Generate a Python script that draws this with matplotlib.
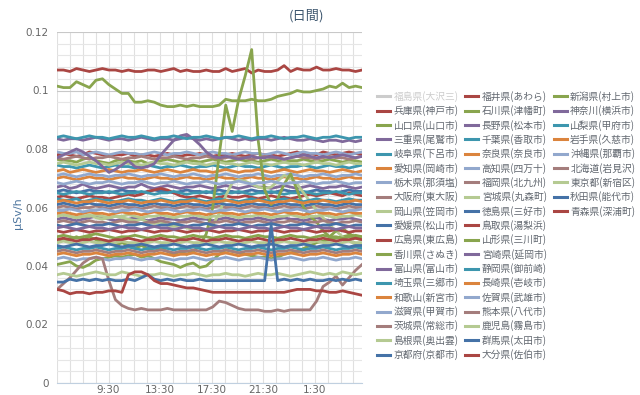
import numpy as np
import matplotlib
matplotlib.use("Agg")
from matplotlib import pyplot as plt
from matplotlib.lines import Line2D
from matplotlib.ticker import MultipleLocator, FixedLocator

# values in 0.001 uSv/h, one reading every ~30 min from 5:30
hyogo = [78, 78.5, 78, 77.5, 78, 79, 78.5, 78, 77.5, 78, 78, 78.5, 77.5, 78, 78, 77.5,
         78, 78.5, 78, 77.5, 78, 78, 78.5, 78, 77.5, 78, 78, 78.5, 78, 77.5, 78, 78.5,
         78, 78, 77.5, 78, 78.5, 79, 78, 78.5, 78, 79, 78.5, 78, 78.5, 79, 78.5, 78]
yamaguchi = [76.5, 76, 76, 75.5, 76.5, 77, 76, 75.5, 75, 76, 76.5, 76, 75.5, 76, 75, 75.5,
             76, 76.5, 76, 75.5, 76, 76, 75.5, 76, 76.5, 76, 75.5, 76, 76.5, 76, 76, 75.5,
             76, 76.5, 76, 75.5, 76, 76, 76.5, 76, 75.5, 76, 76.5, 76, 75.5, 76, 76, 75.5]
mie = [67, 67.5, 66.5, 67, 68, 67, 66.5, 67, 67.5, 67, 66.5, 67, 67, 68, 67, 66.5,
       67, 67.5, 67, 66.5, 67, 67, 67.5, 67, 66.5, 67, 67.5, 67, 66.5, 67, 67.5, 67,
       67, 66.5, 67, 67.5, 67, 66.5, 67, 67.5, 67, 66.5, 67, 67, 67.5, 67, 66.5, 67]
gifu = [74.5, 74, 74, 73.5, 74, 74.5, 74, 73.5, 74, 74.5, 74, 74, 73.5, 74, 74.5, 74,
        73.5, 74, 74, 74.5, 74, 73.5, 74, 74, 74.5, 74, 73.5, 74, 74.5, 74, 74, 73.5,
        74, 74.5, 74, 73.5, 74, 74, 74.5, 74, 73.5, 74, 74.5, 74, 74, 73.5, 74, 74.5]
aichi = [72.5, 73, 72, 72.5, 73, 72.5, 72, 72.5, 73, 72.5, 72, 72.5, 72.5, 73, 72.5, 72,
         72.5, 73, 72.5, 72, 72.5, 73, 72.5, 72.5, 72, 72.5, 73, 72.5, 72, 72.5, 72.5, 73,
         72.5, 72, 72.5, 73, 72.5, 72, 72.5, 73, 72.5, 72.5, 72, 72.5, 73, 72.5, 72, 72.5]
tochigi = [79, 78.5, 78.5, 79, 78, 78.5, 79, 78.5, 78, 78.5, 79, 78.5, 78.5, 78, 78.5, 79,
           78.5, 78, 78.5, 78.5, 79, 78.5, 78, 78.5, 79, 78.5, 78.5, 78, 78.5, 79, 78.5, 78.5,
           78, 78.5, 79, 78.5, 78, 78.5, 79, 78.5, 78.5, 78, 78.5, 79, 78.5, 78, 78.5, 79]
osaka = [77, 76.5, 77, 77.5, 77, 76.5, 77, 77, 77.5, 77, 76.5, 77, 77, 77.5, 77, 76.5,
         77, 77, 77.5, 77, 76.5, 77, 77, 77.5, 77, 76.5, 77, 77.5, 77, 77, 76.5, 77,
         77.5, 77, 77, 76.5, 77, 77.5, 77, 77, 76.5, 77, 77.5, 77, 77, 76.5, 77, 77.5]
okayama = [75, 75.5, 75, 74.5, 75, 75.5, 75, 75, 74.5, 75, 75.5, 75, 75, 74.5, 75, 75.5,
           75, 75, 74.5, 75, 75.5, 75, 75, 74.5, 75, 75.5, 75, 75, 74.5, 75, 75.5, 75,
           75, 74.5, 75, 75.5, 75, 75, 74.5, 75, 75.5, 75, 75, 74.5, 75, 75.5, 75, 75]
ehime = [65.5, 66, 65.5, 65, 65.5, 66, 65.5, 65.5, 65, 65.5, 66, 65.5, 65.5, 65, 65.5, 66,
         65.5, 65.5, 65, 65.5, 66, 65.5, 65.5, 65, 65.5, 66, 65.5, 65.5, 65, 65.5, 66, 65.5,
         65.5, 65, 65.5, 66, 65.5, 65.5, 65, 65.5, 66, 65.5, 65.5, 65, 65.5, 66, 65.5, 65.5]
hiroshima = [63.5, 64, 63.5, 63, 63.5, 64, 63.5, 63.5, 63, 63.5, 64, 64.5, 64, 64.5, 65.5, 66,
             66.5, 66, 65, 64, 63.5, 63.5, 64, 63.5, 63, 63.5, 64, 63.5, 63.5, 64, 63.5, 63,
             63.5, 64, 63.5, 63.5, 63, 63.5, 64, 64.5, 64, 64.5, 65, 64.5, 64, 65, 64.5, 64]
kagawa = [40.5, 41, 41.5, 40, 39.5, 40.5, 42, 42.5, 43, 43.5, 43, 43.5, 44, 43, 43.5, 42.5,
          41.5, 41, 40.5, 39.5, 40.5, 41, 39.5, 40, 42, 44, 45.5, 45, 44.5, 44, 43.5, 43,
          43, 42.5, 43, 44, 44.5, 45, 46, 47, 48, 48.5, 49, 49.5, 50, 50.5, 49.5, 49]
toyama = [56, 56.5, 56, 55.5, 56, 56.5, 57, 56.5, 56, 55.5, 56, 56, 56.5, 56, 55.5, 56,
          56.5, 56, 56, 55.5, 56, 56.5, 56, 56, 55.5, 56, 56.5, 56, 55.5, 56, 56, 56.5,
          56, 55.5, 56, 56.5, 56, 56, 55.5, 56, 56.5, 56, 55.5, 56, 56, 56.5, 56, 55.5]
saitama = [65, 64.5, 65, 65.5, 65, 64.5, 65, 65, 65.5, 65, 64.5, 65, 65, 65.5, 65, 64.5,
           65, 65, 65.5, 65, 64.5, 65, 65, 65.5, 65, 64.5, 65, 65, 65.5, 65, 64.5, 65,
           65, 65.5, 65, 64.5, 65, 65, 65.5, 65, 64.5, 65, 65, 65.5, 65, 64.5, 65, 65]
wakayama = [70, 70.5, 70, 69.5, 70, 70.5, 70, 70, 69.5, 70, 70.5, 70, 70, 69.5, 70, 70.5,
            70, 70, 69.5, 70, 70.5, 70, 70, 69.5, 70, 70.5, 70, 70, 69.5, 70, 70.5, 70,
            70, 69.5, 70, 70.5, 70, 70, 69.5, 70, 70.5, 70, 70, 69.5, 70, 70.5, 70, 70]
shiga = [71, 71.5, 71, 70.5, 71, 71.5, 71, 71, 70.5, 71, 71, 71.5, 71, 70.5, 71, 71,
         71.5, 71, 70.5, 71, 71, 71.5, 71, 70.5, 71, 71, 71.5, 71, 70.5, 71, 71, 71.5,
         71, 70.5, 71, 71, 71.5, 71, 70.5, 71, 71, 71.5, 71, 70.5, 71, 71, 71.5, 71]
ibaraki = [60, 60.5, 60, 59.5, 60, 60, 60.5, 60, 59.5, 60, 60.5, 60, 60, 59.5, 60, 60.5,
           60, 60, 59.5, 60, 60.5, 60, 60, 59.5, 60, 60.5, 60, 60, 59.5, 60, 60.5, 60,
           60, 59.5, 60, 60.5, 60, 60, 59.5, 60, 60.5, 60, 60, 59.5, 60, 60.5, 60, 60]
shimane = [57, 57.5, 57, 56.5, 57, 57.5, 56.5, 56, 56.5, 57, 56.5, 56, 55.5, 56, 55, 54.5,
           55, 54, 53.5, 54, 53, 52.5, 53, 52, 54, 58, 64, 68.5, 69.5, 69, 68, 67,
           66.5, 67, 69, 71, 70, 68, 65, 62, 59, 56.5, 54, 52, 50, 48.5, 47.5, 47]
kyoto = [61, 61.5, 61, 60.5, 61, 61.5, 61, 61, 60.5, 61, 61.5, 61, 61, 60.5, 61, 61.5,
         61, 61, 60.5, 61, 61.5, 61, 61, 60.5, 61, 61.5, 61, 61, 60.5, 61, 61.5, 61,
         61, 60.5, 61, 61.5, 61, 61, 60.5, 61, 61.5, 61, 61, 60.5, 61, 61.5, 61, 61]
fukui = [107, 107, 106.5, 107.5, 107, 106.5, 107, 107.5, 107, 107, 106.5, 107, 106.5, 106.5, 107, 107,
         106.5, 107, 107.5, 106.5, 107, 106.5, 106.5, 107, 106.5, 106.5, 107.5, 106.5, 107, 107.5, 106, 107,
         106.5, 106.5, 107, 108.5, 106.5, 107.5, 107, 107, 108, 107, 107, 107.5, 107, 107, 106.5, 107]
ishikawa = [48, 49, 49, 50, 49, 50, 49, 48, 48, 47, 48, 47, 46, 47, 46, 45,
            46, 45, 44, 45, 44, 45, 47, 51, 60, 78, 95, 86, 97, 105, 114, 83,
            66, 61, 63, 68, 71.5, 66, 60, 57, 55, 52, 50, 52, 53, 51, 50, 50]
nagano = [77, 78, 79, 80, 79, 77.5, 76, 74, 72, 73, 74.5, 76, 74, 73.5, 74, 75,
          78, 80.5, 83, 84.5, 85, 83.5, 81.5, 79, 77.5, 77, 77.5, 77, 76.5, 77, 77.5, 77,
          77, 77.5, 77, 76.5, 77, 77.5, 78, 77.5, 77, 77.5, 77, 77.5, 78, 77.5, 77, 77.5]
chiba = [63, 62.5, 62.5, 63, 62, 62.5, 63, 62.5, 62.5, 62, 62.5, 63, 62.5, 62.5, 62, 62.5,
         63, 62.5, 62, 62.5, 62.5, 63, 62.5, 62, 62.5, 63, 62.5, 62.5, 62, 62.5, 63, 62.5,
         62.5, 62, 62.5, 63, 62.5, 62.5, 62, 62.5, 63, 62.5, 62.5, 62, 62.5, 63, 62.5, 62.5]
nara = [62, 62.5, 62, 61.5, 62, 62, 62.5, 62, 61.5, 62, 62, 62.5, 62, 61.5, 62, 62,
        62.5, 62, 61.5, 62, 62, 62.5, 62, 61.5, 62, 62, 62.5, 62, 61.5, 62, 62, 62.5,
        62, 61.5, 62, 62, 62.5, 62, 61.5, 62, 62, 62.5, 62, 61.5, 62, 62, 62.5, 62]
kochi = [68.5, 68, 68.5, 69, 68.5, 68, 68.5, 68.5, 69, 68.5, 68, 68.5, 68.5, 69, 68.5, 68,
         68.5, 68.5, 69, 68.5, 68, 68.5, 68.5, 69, 68.5, 68, 68.5, 68.5, 69, 68.5, 68, 68.5,
         68.5, 69, 68.5, 68, 68.5, 68.5, 69, 68.5, 68, 68.5, 68.5, 69, 68.5, 68, 68.5, 68.5]
fukuoka = [55, 55.5, 55, 54.5, 55, 55.5, 55, 55, 54.5, 55, 55.5, 55, 55, 54.5, 55, 55,
           55.5, 55, 54.5, 55, 55, 55.5, 55, 54.5, 55, 55, 55.5, 55, 54.5, 55, 55, 55.5,
           55, 54.5, 55, 55, 55.5, 55, 54.5, 55, 55, 55.5, 55, 54.5, 55, 55, 55.5, 55]
miyagi = [57, 57.5, 57, 56.5, 57, 57, 57.5, 57, 56.5, 57, 57, 57.5, 57, 56.5, 57, 57,
          57.5, 57, 56.5, 57, 57, 57.5, 57, 56.5, 57, 57, 57.5, 57, 56.5, 57, 57, 57.5,
          57, 56.5, 57, 57, 57.5, 57, 56.5, 57, 57, 57.5, 57, 56.5, 57, 57, 57.5, 57]
tokushima = [54, 53.5, 54, 54.5, 54, 53.5, 54, 54, 54.5, 54, 53.5, 54, 54, 54.5, 54, 53.5,
             54, 54, 54.5, 54, 53.5, 54, 54, 54.5, 54, 53.5, 54, 54, 54.5, 54, 53.5, 54,
             54, 54.5, 54, 53.5, 54, 54, 54.5, 54, 53.5, 54, 54, 54.5, 54, 53.5, 54, 54]
tottori = [52, 51.5, 52, 52.5, 52, 51.5, 52, 52, 52.5, 52, 51.5, 52, 52, 52.5, 52, 51.5,
           52, 52, 52.5, 52, 51.5, 52, 52, 52.5, 52, 51.5, 52, 52, 52.5, 52, 51.5, 52,
           52, 52.5, 52, 51.5, 52, 52, 52.5, 52, 51.5, 52, 52, 52.5, 52, 51.5, 52, 52]
yamagata = [50, 50.5, 50, 49.5, 50, 50.5, 51, 50.5, 50, 49.5, 50, 50, 50.5, 50, 49.5, 50,
            50.5, 50, 50, 49.5, 50, 50.5, 50, 50, 49.5, 50, 50.5, 50, 50, 49.5, 50, 50.5,
            50, 50, 49.5, 50, 50.5, 50, 50, 49.5, 50, 50.5, 50, 50, 49.5, 50, 50.5, 50]
miyazaki = [83.5, 83, 83.5, 83.5, 83, 83.5, 84, 83.5, 83, 83.5, 83.5, 83, 83.5, 84, 83.5, 83,
            83.5, 83.5, 83, 83.5, 84, 83.5, 83, 83.5, 83, 83.5, 84, 83.5, 83, 83.5, 83, 83.5,
            83.5, 83, 83.5, 84, 83.5, 83, 83, 83.5, 83, 82.5, 83, 83, 82.5, 83, 82.5, 83]
shizuoka = [46, 46.5, 46, 45.5, 46, 46, 46.5, 46, 45.5, 46, 46, 46.5, 46, 45.5, 46, 46,
            46.5, 46, 45.5, 46, 46, 46.5, 46, 45.5, 46, 46, 46.5, 46, 45.5, 46, 46, 46.5,
            46, 45.5, 46, 46, 46.5, 46, 45.5, 46, 46, 46.5, 46, 45.5, 46, 46, 46.5, 46]
nagasaki = [58, 58.5, 58, 57.5, 58, 58.5, 58, 58, 57.5, 58, 58.5, 58, 58, 57.5, 58, 58.5,
            58, 58, 57.5, 58, 58.5, 58, 58, 57.5, 58, 58.5, 58, 58, 57.5, 58, 58.5, 58,
            58, 57.5, 58, 58.5, 58, 58, 57.5, 58, 58.5, 58, 58, 57.5, 58, 58.5, 58, 58]
saga = [59, 59, 59.5, 59, 58.5, 59, 59, 59.5, 59, 58.5, 59, 59, 59.5, 59, 58.5, 59,
        59, 59.5, 59, 58.5, 59, 59, 59.5, 59, 58.5, 59, 59, 59.5, 59, 58.5, 59, 59,
        59.5, 59, 58.5, 59, 59, 59.5, 59, 58.5, 59, 59, 59.5, 59, 58.5, 59, 59, 59.5]
kumamoto = [45, 45.5, 45, 44.5, 45, 45, 45.5, 45, 44.5, 45, 45, 45.5, 45, 44.5, 45, 45,
            45.5, 45, 44.5, 45, 45, 45.5, 45, 44.5, 45, 45, 45.5, 45, 44.5, 45, 45, 45.5,
            45, 44.5, 45, 45, 45.5, 45, 44.5, 45, 45, 45.5, 45, 44.5, 45, 45, 45.5, 45]
kagoshima = [48, 48.5, 48, 47.5, 48, 48.5, 48, 48, 47.5, 48, 48.5, 48, 48, 47.5, 48, 48.5,
             48, 48, 47.5, 48, 48.5, 48, 48, 47.5, 48, 48.5, 48, 48, 47.5, 48, 48.5, 48,
             48, 47.5, 48, 48.5, 48, 48, 47.5, 48, 48.5, 48, 48, 47.5, 48, 48.5, 48, 48]
gunma = [47, 46.5, 47, 47.5, 47, 46.5, 47, 47, 47.5, 47, 46.5, 47, 47, 47.5, 47, 46.5,
         47, 47, 47.5, 47, 46.5, 47, 47, 47.5, 47, 46.5, 47, 47, 47.5, 47, 46.5, 47,
         47, 47.5, 47, 46.5, 47, 47, 47.5, 47, 46.5, 47, 47, 47.5, 47, 46.5, 47, 47]
oita = [49, 49.5, 49, 48.5, 49, 49, 49.5, 49, 48.5, 49, 49, 49.5, 49, 48.5, 49, 49,
        49.5, 49, 48.5, 49, 49, 49.5, 49, 48.5, 49, 49, 49.5, 49, 48.5, 49, 49, 49.5,
        49, 48.5, 49, 49, 49.5, 49, 48.5, 49, 49, 49.5, 49, 48.5, 49, 49, 49.5, 49]
niigata = [101.5, 101, 101, 103, 102, 101, 103.5, 104, 102, 100.5, 99, 99, 96, 96, 96.5, 96,
           95, 94.5, 94.5, 95, 94.5, 95, 94.5, 94.5, 94.5, 95, 97, 96.5, 96.5, 96.5, 97, 96.5,
           96.5, 97, 98, 98.5, 99, 100, 99.5, 99.5, 100, 100.5, 101.5, 101, 102.5, 101, 101.5, 101]
kanagawa = [53, 53.5, 53, 52.5, 53, 53.5, 53, 53, 52.5, 53, 53.5, 53, 53, 52.5, 53, 53.5,
            53, 53, 52.5, 53, 53.5, 53, 53, 52.5, 53, 53.5, 53, 53, 52.5, 53, 53.5, 53,
            53, 52.5, 53, 53.5, 53, 53, 52.5, 53, 53.5, 53, 53, 52.5, 53, 53.5, 53, 53]
yamanashi = [84, 84.5, 84, 83.5, 84, 84.5, 84, 84, 83.5, 84, 84.5, 84, 84, 84.5, 84, 83.5,
             84, 84, 84.5, 84, 83.5, 84, 84, 84.5, 84, 83.5, 84, 84, 84.5, 84, 83.5, 84,
             84, 84.5, 84, 83.5, 84, 84, 84.5, 84, 83.5, 84, 84, 84.5, 84, 83.5, 84, 84]
iwate = [44, 44.5, 44, 43.5, 44, 44, 44.5, 44, 43.5, 44, 44, 44.5, 44, 43.5, 44, 44,
         44.5, 44, 43.5, 44, 44, 44.5, 44, 43.5, 44, 44, 44.5, 44, 43.5, 44, 44, 44.5,
         44, 43.5, 44, 44, 44.5, 44, 43.5, 44, 44, 44.5, 44, 43.5, 44, 44, 44.5, 44]
okinawa = [42.5, 43, 42.5, 42, 42.5, 42.5, 43, 42.5, 42, 42.5, 42.5, 43, 42.5, 42, 42.5, 42.5,
           43, 42.5, 42, 42.5, 42.5, 43, 42.5, 42, 42.5, 42.5, 43, 42.5, 42, 42.5, 42.5, 43,
           42.5, 42, 42.5, 42.5, 43, 42.5, 42, 42.5, 42.5, 43, 42.5, 42, 42.5, 42.5, 43, 42.5]
hokkaido = [32, 34, 36, 38.5, 41, 42.5, 43, 42.5, 35, 28.5, 26.5, 25.5, 25, 25.5, 25, 25,
            25, 25.5, 25, 25, 25, 25, 25, 25, 26, 28, 27.5, 26.5, 25.5, 25, 25, 25,
            24.5, 24.5, 25, 24.5, 25, 25, 25, 25, 28, 33, 34.5, 36.5, 33.5, 36, 38.5, 40.5]
tokyo = [37, 37.5, 37, 36.5, 37, 37.5, 38, 37.5, 37, 37, 38, 37.5, 37, 36.5, 37, 37,
         37.5, 37, 36.5, 37, 37, 37.5, 37, 36.5, 37, 37, 37.5, 37, 37, 36.5, 37, 37.5,
         37, 37, 37.5, 37, 36.5, 37, 37.5, 38, 37.5, 37, 37.5, 37, 38, 37.5, 37, 37.5]
akita = [34.5, 34.5, 35.5, 35, 35.5, 35, 35.5, 35, 35.5, 35, 35, 35.5, 35, 36, 37, 35.5,
         35, 35.5, 35, 35.5, 35, 35, 35.5, 35, 35, 35, 35, 35, 35, 35, 35, 35,
         35, 54, 35, 35.5, 35, 35.5, 35, 35.5, 35, 35, 35.5, 35, 35.5, 35, 35.5, 35]
aomori = [32, 31.5, 30.5, 31, 31, 30.5, 31, 31, 31.5, 31.5, 31, 37, 38, 38, 37, 35,
          34, 34, 33.5, 33, 32.5, 32.5, 32, 31.5, 31, 31, 31, 31, 31, 31, 31, 31,
          31, 31, 31, 31, 31.5, 32, 32, 32, 31.5, 31.5, 31, 31, 31.5, 31, 30.5, 30]

hidden_label = "福島県(大沢三)"
labels = ["兵庫県(神戸市)", "山口県(山口市)", "三重県(尾鷲市)", "岐阜県(下呂市)", "愛知県(岡崎市)",
          "栃木県(那須塩)", "大阪府(東大阪)", "岡山県(笠岡市)", "愛媛県(松山市)", "広島県(東広島)",
          "香川県(さぬき)", "富山県(富山市)", "埼玉県(三郷市)", "和歌山(新宮市)", "滋賀県(甲賀市)",
          "茨城県(常総市)", "島根県(奥出雲)", "京都府(京都市)", "福井県(あわら)", "石川県(津幡町)",
          "長野県(松本市)", "千葉県(香取市)", "奈良県(奈良市)", "高知県(四万十)", "福岡県(北九州)",
          "宮城県(丸森町)", "徳島県(三好市)", "鳥取県(湯梨浜)", "山形県(三川町)", "宮崎県(延岡市)",
          "静岡県(御前崎)", "長崎県(壱岐市)", "佐賀県(武雄市)", "熊本県(八代市)", "鹿児島(霧島市)",
          "群馬県(太田市)", "大分県(佐伯市)", "新潟県(村上市)", "神奈川(横浜市)", "山梨県(甲府市)",
          "岩手県(久慈市)", "沖縄県(那覇市)", "北海道(岩見沢)", "東京都(新宿区)", "秋田県(能代市)",
          "青森県(深浦町)"]
series = [hyogo, yamaguchi, mie, gifu, aichi, tochigi, osaka, okayama, ehime, hiroshima,
          kagawa, toyama, saitama, wakayama, shiga, ibaraki, shimane, kyoto, fukui, ishikawa,
          nagano, chiba, nara, kochi, fukuoka, miyagi, tokushima, tottori, yamagata, miyazaki,
          shizuoka, nagasaki, saga, kumamoto, kagoshima, gunma, oita, niigata, kanagawa, yamanashi,
          iwate, okinawa, hokkaido, tokyo, akita, aomori]
tick_labels = ["9:30", "13:30", "17:30", "21:30", "1:30"]
yticks = [0, 0.02, 0.04, 0.06, 0.08, 0.1, 0.12]
ytick_labels = ["0", "0.02", "0.04", "0.06", "0.08", "0.1", "0.12"]

for s in series:
    assert len(s) == 48

palette = ['#4572A7', '#AA4643', '#89A54E', '#80699B', '#3D96AE',
           '#DB843D', '#92A8CD', '#A47D7C', '#B5CA92']

plt.rcParams['font.family'] = ['Noto Sans CJK JP', 'DejaVu Sans']

fig = plt.figure(figsize=(6.4, 3.95), dpi=100)
ax = fig.add_axes([57 / 640, 12 / 395, 305 / 640, 351 / 395])

span = 23 + 40 / 60          # hours shown, starting at 5:30
x = np.linspace(0, span, 48)

lines = []
for i, vals in enumerate(series):
    ln, = ax.plot(x, np.array(vals) / 1000, color=palette[(i + 1) % 9], lw=2.0,
                  solid_joinstyle='round', zorder=3)
    lines.append(ln)

ax.set_xlim(0, span)
ax.set_ylim(0, 0.12)
ax.xaxis.set_major_locator(FixedLocator([4, 8, 12, 16, 20]))
ax.set_xticklabels(tick_labels, family='DejaVu Sans')
ax.xaxis.set_minor_locator(MultipleLocator(1))
ax.yaxis.set_major_locator(FixedLocator(yticks))
ax.set_yticklabels(ytick_labels, family='DejaVu Sans')
ax.yaxis.set_minor_locator(MultipleLocator(0.004))
ax.grid(which='major', axis='y', color='#C8C8C8', lw=0.8)
ax.grid(which='minor', axis='y', color='#E6E6E6', lw=0.8)
ax.grid(which='both', axis='x', color='#E0E0E0', lw=0.8)
ax.set_axisbelow(True)
ax.tick_params(which='both', length=0)
ax.tick_params(axis='y', pad=6, labelsize=7.5, labelcolor='#666666')
ax.tick_params(axis='x', pad=1.5, labelsize=7.5, labelcolor='#666666')
for side in ['top', 'right', 'left']:
    ax.spines[side].set_visible(False)
ax.spines['bottom'].set_color('#C0D0E0')

fig.text(18 / 640, 0.46, "μSv/h", rotation=90, ha='center', va='center',
         fontsize=8, color='#4D759E', family='DejaVu Sans')
fig.text(306 / 640, 1 - 16 / 395, "(日間)", ha='center', va='center',
         fontsize=9.5, color='#3E576F')

# legend: 19 rows, filled column by column
hidden = Line2D([], [], color='#CCCCCC', lw=2.2)
handles = [hidden] + lines
names = [hidden_label] + labels
blank = Line2D([], [], color='none')
handles += [blank] * (57 - len(handles))
names += [''] * (57 - len(names))
leg = fig.legend(handles, names, ncol=3, loc='upper left',
                 bbox_to_anchor=(377 / 640, 1 - 91 / 395), frameon=False,
                 fontsize=7, handlelength=1.35, handletextpad=0.35,
                 columnspacing=0.7, labelspacing=0.35, borderpad=0, borderaxespad=0)
for lh in leg.get_lines():
    lh.set_linewidth(2.2)
for j, t in enumerate(leg.get_texts()):
    t.set_color('#CCCCCC' if j == 0 else '#626870')

fig.savefig("out.png", dpi=100)
